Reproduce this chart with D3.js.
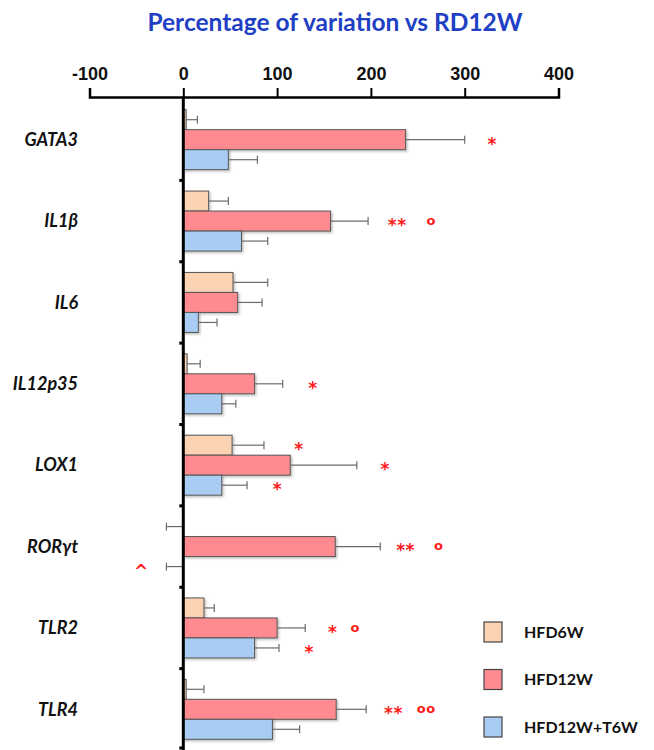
<!DOCTYPE html>
<html>
<head>
<meta charset="utf-8">
<script src="https://cdn.jsdelivr.net/npm/d3@7.9.0/dist/d3.min.js"></script>
<style>
  body { margin: 0; background: #fff; }
  svg { display: block; font-family: Lato, "Open Sans", sans-serif; }
</style>
</head>
<body>
<svg id="chart"></svg>
<script>
// genes and groups
const genes = ["GATA3", "IL1β", "IL6", "IL12p35", "LOX1", "RORγt", "TLR2", "TLR4"];
const groups = ["HFD6W", "HFD12W", "HFD12W+T6W"];
const colors = ["#FBD3B2", "#FF8A8F", "#A9CDF2"];

// % variation vs RD12W, and SEM, one array per group
const hfd6w = [3, 27, 53, 4, 52, -1, 22, 3];
const hfd6wErr = [12, 21, 37, 14, 34, 17, 11, 19];
const hfd12w = [237, 157, 58, 76, 114, 162, 100, 163];
const hfd12wErr = [63, 40, 26, 30, 71, 48, 30, 32];
const hfdT6w = [48, 62, 16, 41, 41, -1, 76, 95];
const hfdT6wErr = [31, 28, 20, 15, 27, 17, 26, 29];

const xTicks = [-100, 0, 100, 200, 300, 400];

// significance marks: gene, group, text, x position (in % units)
const marks = [
  ["GATA3", "HFD12W", "*", 329],
  ["IL1β", "HFD12W", "**", 228],
  ["IL1β", "HFD12W", "o", 264],
  ["IL12p35", "HFD12W", "*", 138],
  ["LOX1", "HFD6W", "*", 123],
  ["LOX1", "HFD12W", "*", 215],
  ["LOX1", "HFD12W+T6W", "*", 100],
  ["RORγt", "HFD12W", "**", 237],
  ["RORγt", "HFD12W", "o", 272],
  ["RORγt", "HFD12W+T6W", "^", -45],
  ["TLR2", "HFD12W", "*", 159],
  ["TLR2", "HFD12W", "o", 183],
  ["TLR2", "HFD12W+T6W", "*", 134],
  ["TLR4", "HFD12W", "**", 224],
  ["TLR4", "HFD12W", "oo", 259]
];

const values = [hfd6w, hfd12w, hfdT6w];
const errs = [hfd6wErr, hfd12wErr, hfdT6wErr];

const rows = [];
genes.forEach((g, i) => {
  groups.forEach((grp, j) => {
    rows.push({ gene: g, group: grp, value: values[j][i], err: errs[j][i], color: colors[j] });
  });
});

const width = 654, height = 750;
const svg = d3.select("#chart").attr("width", width).attr("height", height);

const x = d3.scaleLinear().domain([-100, 400]).range([89.5, 558.5]);
const y = d3.scaleBand().domain(genes).range([99, 750]);
const inner = d3.scaleBand().domain(groups)
  .range([(y.bandwidth() - 60) / 2, (y.bandwidth() + 60) / 2]);

const defs = svg.append("defs");
const shadow = defs.append("filter").attr("id", "shadow")
  .attr("x", "-10%").attr("y", "-20%").attr("width", "130%").attr("height", "160%");
shadow.append("feDropShadow")
  .attr("dx", 1.5).attr("dy", 1.5).attr("stdDeviation", 1)
  .attr("flood-color", "#000").attr("flood-opacity", 0.25);

// title
svg.append("text")
  .attr("x", 335).attr("y", 31)
  .attr("text-anchor", "middle")
  .attr("font-size", 24.5).attr("font-weight", "bold")
  .attr("fill", "#1F3FC4")
  .text("Percentage of variation vs RD12W");

// bars
svg.append("g").selectAll("rect")
  .data(rows)
  .join("rect")
  .attr("x", d => x(Math.min(0, d.value)))
  .attr("y", d => y(d.gene) + inner(d.group))
  .attr("width", d => Math.abs(x(d.value) - x(0)))
  .attr("height", inner.bandwidth())
  .attr("fill", d => d.color)
  .attr("stroke", "#555")
  .attr("stroke-width", 1)
  .attr("filter", "url(#shadow)");

// error bars
const eb = svg.append("g").attr("stroke", "#6b6b6b").attr("stroke-width", 1.2);
rows.forEach(d => {
  const cy = y(d.gene) + inner(d.group) + inner.bandwidth() / 2;
  const end = d.value >= 0 ? d.value + d.err : d.value - d.err;
  eb.append("line").attr("x1", x(d.value)).attr("x2", x(end)).attr("y1", cy).attr("y2", cy);
  eb.append("line").attr("x1", x(end)).attr("x2", x(end)).attr("y1", cy - 4).attr("y2", cy + 4);
});

// top axis
const axis = svg.append("g")
  .attr("transform", "translate(0,97)")
  .call(d3.axisTop(x).tickValues(xTicks).tickSize(9).tickSizeOuter(9).tickFormat(d => String(d)).tickPadding(8));
axis.select(".domain").attr("stroke-width", 2.5);
axis.selectAll(".tick line").attr("stroke-width", 2);
axis.selectAll(".tick text")
  .attr("font-size", 18).attr("font-weight", "bold").attr("fill", "#111");

// vertical zero line with band ticks
svg.append("line")
  .attr("x1", x(0)).attr("x2", x(0)).attr("y1", 97).attr("y2", 750)
  .attr("stroke", "#000").attr("stroke-width", 3);
svg.append("g").selectAll("line")
  .data(genes.slice(1).concat(["end"]))
  .join("line")
  .attr("x1", x(0) - 4).attr("x2", x(0))
  .attr("y1", d => d === "end" ? 748 : y(d))
  .attr("y2", d => d === "end" ? 748 : y(d))
  .attr("stroke", "#000").attr("stroke-width", 3);

// gene labels
svg.append("g").selectAll("text")
  .data(genes)
  .join("text")
  .attr("x", 78)
  .attr("y", d => y(d) + y.bandwidth() / 2)
  .attr("dy", "0.35em")
  .attr("text-anchor", "end")
  .attr("font-size", 18).attr("font-weight", "bold").attr("font-style", "italic")
  .attr("fill", "#111")
  .text(d => d);

// significance marks
svg.append("g").selectAll("text")
  .data(marks)
  .join("text")
  .attr("x", d => x(d[3]))
  .attr("y", d => y(d[0]) + inner(d[1]) + inner.bandwidth() / 2)
  .attr("dy", d => d[2] === "^" ? "0.6em" : (d[2].startsWith("o") ? "0.28em" : "0.58em"))
  .attr("text-anchor", "middle")
  .attr("font-family", "'DejaVu Sans', sans-serif")
  .attr("font-size", d => d[2].startsWith("o") ? 13 : 17)
  .attr("font-weight", "bold")
  .attr("fill", "#FF1A1A")
  .attr("letter-spacing", d => d[2].length > 1 ? 0.5 : 0)
  .text(d => d[2]);

// legend
const legend = svg.append("g");
groups.forEach((g, i) => {
  const ly = 622 + i * 47.5;
  legend.append("rect")
    .attr("x", 484).attr("y", ly).attr("width", 18).attr("height", 20)
    .attr("fill", colors[i]).attr("stroke", "#444").attr("stroke-width", 1.2);
  legend.append("text")
    .attr("x", 524).attr("y", ly + 10).attr("dy", "0.35em")
    .attr("font-size", 16).attr("font-weight", "bold").attr("fill", "#111")
    .text(g);
});
</script>
</body>
</html>
